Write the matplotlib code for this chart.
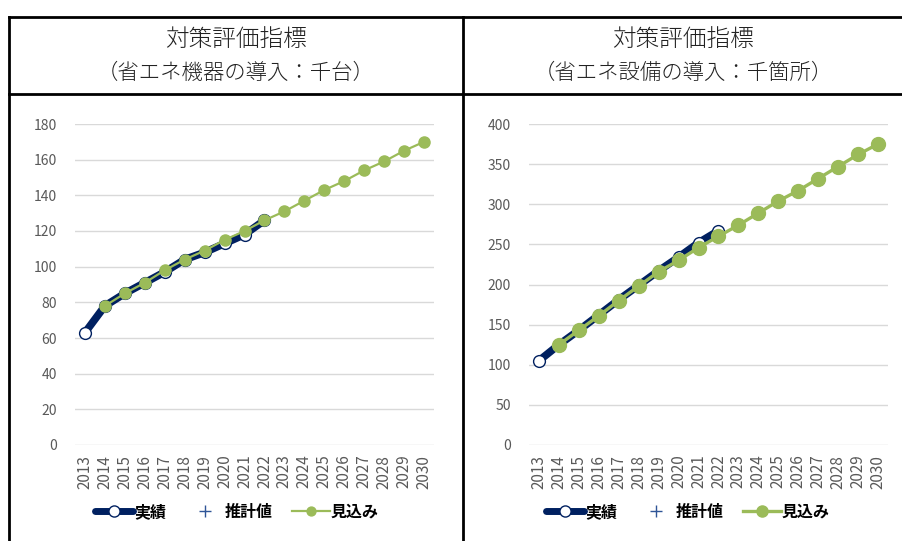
import matplotlib
matplotlib.use('Agg')
import matplotlib.pyplot as plt
from matplotlib.lines import Line2D

plt.rcParams['font.family'] = ['Noto Sans CJK JP', 'DejaVu Sans']

# data
years = [str(y) for y in range(2013, 2031)]

left_title = '対策評価指標'
left_sub = '（省エネ機器の導入：千台）'
left_actual = [63, 78, 85, 91, 97, 104, 108, 113, 118, 126]
left_forecast = [None, 78, 85, 91, 98, 104, 109, 115, 120, 126, 131, 137, 143, 148, 154, 159, 165, 170]
left_ticks = list(range(0, 181, 20))

right_title = '対策評価指標'
right_sub = '（省エネ設備の導入：千箇所）'
right_actual = [105, 125, 143, 162, 181, 199, 217, 234, 252, 267]
right_forecast = [None, 125, 143, 161, 180, 198, 216, 230, 246, 260, 274, 289, 304, 317, 332, 347, 362, 375]
right_ticks = list(range(0, 401, 50))

estimate = []  # 推計値: legend entry only

labels = ['実績', '推計値', '見込み']

NAVY = '#002060'
GREEN = '#9BBB59'
GRID = '#D9D9D9'
TICK = '#595959'


def draw_panel(fig, rect, actual, forecast, ticks, green_lw, green_ms, legend_x):
    ax = fig.add_axes(rect)
    x = list(range(len(years)))
    xa = x[:len(actual)]
    ax.plot(xa, actual, color=NAVY, lw=5.5, marker='o', ms=8.5,
            mfc='white', mec=NAVY, mew=1.0, solid_capstyle='round', zorder=3)
    ax.plot(estimate, estimate, ls='none', marker='+', color='#2F5597', ms=8)
    fx = [i for i, v in zip(x, forecast) if v is not None]
    fy = [v for v in forecast if v is not None]
    ax.plot(fx, fy, color=GREEN, lw=green_lw, marker='o', ms=green_ms,
            mfc=GREEN, mec=GREEN, zorder=4)
    ax.set_xlim(-0.5, len(years) - 0.5)
    ax.set_ylim(ticks[0], ticks[-1])
    ax.set_yticks(ticks)
    ax.set_xticks(x)
    ax.set_xticklabels(years, rotation=90)
    ax.tick_params(axis='x', length=0, labelsize=11, colors=TICK, pad=7)
    ax.tick_params(axis='y', length=0, labelsize=10, colors=TICK, pad=13)
    ax.grid(axis='y', color=GRID, lw=1)
    ax.set_axisbelow(True)
    for s in ax.spines.values():
        s.set_visible(False)

    h_act = Line2D([], [], color=NAVY, lw=5, marker='o', ms=8, mfc='white', mec=NAVY,
                   solid_capstyle='round')
    h_est = Line2D([], [], ls='none', marker='+', color='#2F5597', ms=8)
    h_fc = Line2D([], [], color=GREEN, lw=green_lw, marker='o', ms=green_ms * 0.8, mfc=GREEN, mec=GREEN)
    fig.legend([h_act, h_est, h_fc], labels, loc='center', ncol=3,
               bbox_to_anchor=(legend_x, 1 - 512 / 541), frameon=False,
               prop={'size': 11.5, 'weight': 'bold'},
               handlelength=2.4, handletextpad=0.05, columnspacing=1.2)
    return ax


fig = plt.figure(figsize=(9.03, 5.41), dpi=100)
W, H = 903.0, 541.0

draw_panel(fig, [75 / W, 96 / H, 359 / W, 321 / H], left_actual, left_forecast,
           left_ticks, 1.6, 8, 237 / W)
draw_panel(fig, [529 / W, 96 / H, 359 / W, 321 / H], right_actual, right_forecast,
           right_ticks, 2.4, 10, 688 / W)

# frame of the table
lk = dict(color='black', lw=2, transform=fig.transFigure)
fig.add_artist(Line2D([8.5 / W, 1], [1 - 17 / H, 1 - 17 / H], **lk))
fig.add_artist(Line2D([8.5 / W, 1], [1 - 94 / H, 1 - 94 / H], **lk))
fig.add_artist(Line2D([8.5 / W, 8.5 / W], [0, 1 - 17 / H], **lk))
fig.add_artist(Line2D([463 / W, 463 / W], [0, 1 - 17 / H], **lk))

for cx, t, s in [(236, left_title, left_sub), (683, right_title, right_sub)]:
    fig.text(cx / W, 1 - 39 / H, t, ha='center', va='center', fontsize=17,
             fontweight='light', color='#222222')
    fig.text(cx / W, 1 - 73 / H, s, ha='center', va='center', fontsize=15.4,
             fontweight='light', color='#222222')

fig.savefig('out.png', dpi=100)
